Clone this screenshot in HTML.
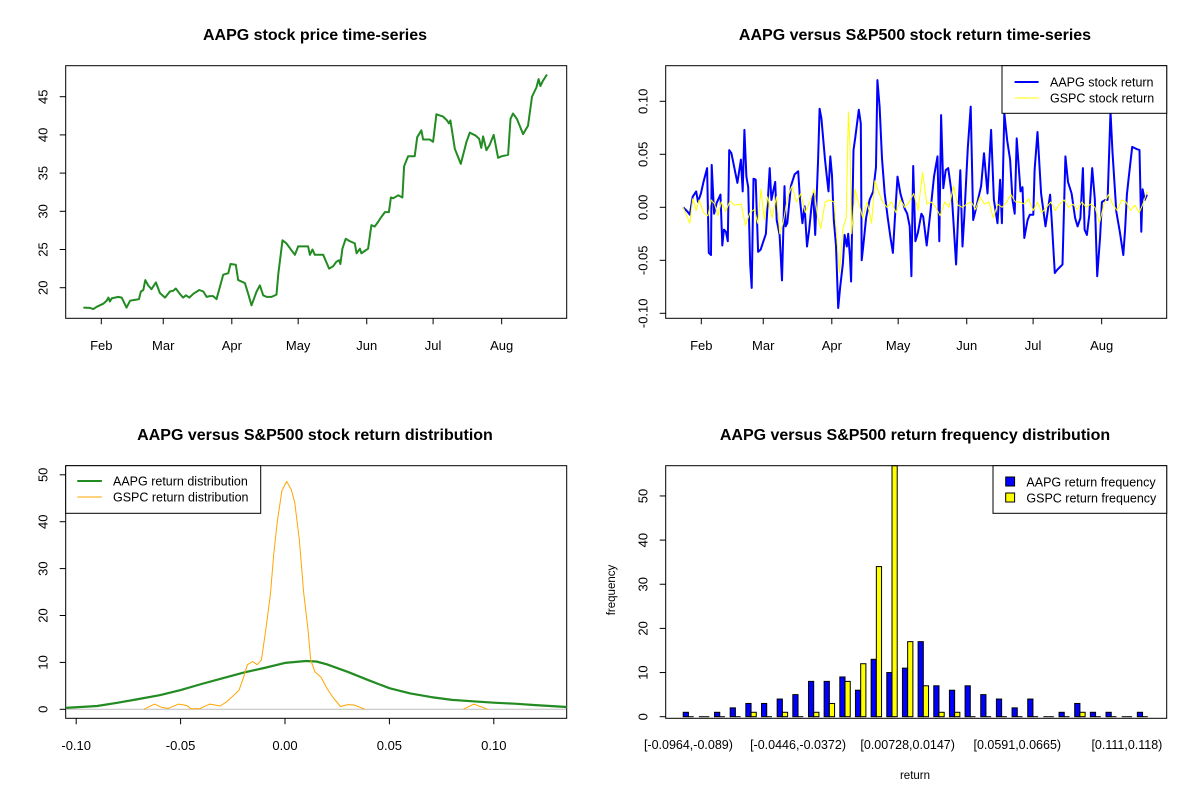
<!DOCTYPE html>
<html><head><meta charset="utf-8"><title>AAPG charts</title>
<style>
html,body{margin:0;padding:0;background:#fff}
svg{display:block;font-family:"Liberation Sans",Arial,sans-serif}
.t{font-weight:bold;font-size:16px;text-anchor:middle}
.tk{font-size:13px}
</style></head><body>
<svg id="s" width="1200" height="800" viewBox="0 0 1200 800" xmlns="http://www.w3.org/2000/svg">
<rect width="1200" height="800" fill="#fff"/>
<text class="t" x="315" y="40">AAPG stock price time-series</text>
<text class="t" x="915" y="40">AAPG versus S&amp;P500 stock return time-series</text>
<text class="t" x="315" y="440">AAPG versus S&amp;P500 stock return distribution</text>
<text class="t" x="915" y="440">AAPG versus S&amp;P500 return frequency distribution</text>
<g id="g"></g>
</svg>
<script>
// ---- data ----
const monthNames=["Feb","Mar","Apr","May","Jun","Jul","Aug"];
const monthDays=[31,59,90,120,151,181,212];
const priceDays=[22.9,25.9,27.4,28.9,31.9,33.4,34.2,34.9,35.7,38.7,40.2,42.4,44.0,46.2,48.0,48.9,50.0,50.9,52.2,53.7,55.7,57.5,59.8,62.0,63.5,64.7,66.5,68.0,69.3,70.8,72.6,75.3,77.1,78.6,80.1,81.6,83.1,84.6,86.1,88.4,89.4,91.8,92.9,95.9,97.4,98.9,101.2,102.7,104.2,105.7,108.0,110.2,111.0,112.9,114.7,117.0,118.5,120.0,124.5,125.3,126.5,127.5,131.3,134.0,135.8,137.3,138.5,139.1,140.0,141.5,143.3,145.6,146.4,147.9,148.6,150.1,151.6,153.1,154.6,156.1,157.7,159.2,161.0,161.9,162.9,165.2,167.1,167.9,169.7,172.7,173.8,175.7,176.5,179.5,181.0,182.5,185.5,187.3,188.2,188.8,190.8,193.5,196.1,197.6,200.3,201.8,202.8,203.6,205.1,206.6,208.4,210.4,211.9,214.9,216.0,217.1,218.9,221.7,223.9,225.7,227.7,228.7,229.5,230.7,232.5];
const priceVals=[17.4,17.35,17.2,17.5,17.9,18.3,18.7,18.2,18.6,18.8,18.7,17.4,18.3,18.4,18.5,19.5,19.7,21.0,20.3,19.8,20.7,19.3,18.7,19.5,19.6,19.9,19.2,18.7,19.0,18.7,19.2,19.7,19.5,18.8,18.9,18.9,18.5,20.1,21.7,21.9,23.1,23.0,21.0,20.6,19.2,17.7,19.5,20.3,19.0,18.8,18.8,19.1,21.8,26.2,25.8,24.9,24.3,25.4,25.4,24.3,25.0,24.3,24.3,22.5,22.8,23.4,23.6,23.1,25.1,26.4,26.1,25.8,24.5,25.1,24.5,24.8,25.1,28.2,28.0,28.6,29.3,29.9,29.9,31.8,31.7,32.1,31.8,35.9,37.2,37.2,39.7,40.6,39.4,39.4,39.1,42.7,42.4,41.9,41.5,41.9,38.2,36.2,39.1,40.3,39.9,39.5,38.3,39.8,38.0,38.7,40.0,37.0,37.2,37.4,42.1,42.8,42.1,40.1,41.2,45.0,46.2,47.3,46.4,47.1,47.9];
const retDays=[22.8,24.7,25.8,27.1,28.7,29.5,30.8,32.0,33.6,34.4,35.4,35.7,36.8,37.9,39.7,40.5,41.2,42.1,43.0,43.6,44.6,47.3,48.9,49.7,50.5,51.4,52.2,53.1,53.8,54.6,55.6,56.7,57.8,60.2,61.9,62.7,64.4,65.1,66.4,67.5,68.6,69.1,69.9,71.5,73.2,74.8,75.6,76.7,77.7,78.8,79.8,80.8,81.6,82.5,83.8,84.5,85.3,86.9,87.7,88.5,89.3,90.1,90.9,91.9,92.9,93.8,95.0,95.8,96.8,97.4,98.2,98.7,99.8,100.6,102.2,103.1,103.5,104.2,105.5,107.1,108.7,110.0,110.6,111.6,112.7,113.9,115.2,116.5,117.6,118.4,119.7,121.0,122.9,124.1,125.2,126.0,126.8,127.8,128.9,130.5,131.3,132.9,134.5,136.2,137.8,138.6,139.4,140.4,141.5,142.6,144.2,146.2,147.1,148.1,149.1,149.9,151.5,152.8,153.9,155.2,157.5,158.8,160.4,162.0,163.3,164.9,166.1,166.9,168.0,169.3,170.6,171.7,172.7,173.6,175.3,176.2,177.0,178.5,179.5,181.1,181.7,183.0,184.6,186.6,188.7,189.5,190.8,191.9,194.3,195.6,196.8,198.4,200.0,201.1,202.4,203.5,204.3,205.3,206.4,207.7,208.9,210.0,211.3,212.1,213.7,214.7,215.5,216.0,216.9,218.6,220.2,221.8,222.6,223.4,224.2,225.8,227.8,229.1,229.9,230.5,231.5,232.5];
const aapgRet=[0,-0.004,-0.007,0.010,0.015,0.005,0.013,0.024,0.037,-0.043,-0.045,0.040,-0.006,0.004,0.012,-0.036,-0.021,-0.023,-0.032,0.054,0.051,0.023,0.045,0.015,0.073,0.029,0.019,-0.054,-0.076,0.027,0.026,-0.042,-0.040,-0.025,0.037,0.007,0.024,-0.012,-0.026,-0.069,0.020,-0.018,-0.015,0.020,0.031,0.034,0.007,-0.015,0.001,-0.037,-0.021,0.001,0.013,-0.026,0.045,0.093,0.084,0.045,0.030,0.015,0.048,0.030,-0.012,-0.036,-0.095,-0.075,-0.053,-0.026,-0.037,-0.025,-0.046,-0.070,0.054,0.066,0.092,0.079,-0.050,-0.037,-0.010,0.007,0.015,0.038,0.120,0.095,0.046,0.013,-0.009,-0.028,-0.043,-0.015,0.029,0.013,-0.001,-0.006,-0.018,-0.065,0.039,-0.032,-0.024,-0.006,-0.009,-0.036,-0.006,0.029,0.048,-0.032,0.087,0.018,0.035,0.037,0.013,-0.054,-0.009,0.035,-0.037,-0.009,0.056,0.095,-0.012,-0.001,0.020,0.051,0.013,0.073,0.007,-0.015,0.026,-0.015,0.089,0.063,0.045,0.007,-0.006,0.065,0.015,0.019,-0.029,-0.012,-0.007,-0.007,0.035,0.071,0.013,-0.018,0.012,-0.015,-0.062,-0.059,-0.054,0.048,0.024,0.013,-0.010,-0.018,-0.010,0.037,-0.021,-0.026,-0.007,0.037,0.008,-0.065,-0.028,0.005,0.007,0.007,0.059,0.090,0.052,-0.004,-0.023,-0.045,-0.021,0.012,0.028,0.057,0.055,0.054,-0.023,0.017,0.007,0.012];
const gspcDays=[22.8,25.8,27.1,28.7,30,32,34,35.5,37,38.5,40,42,44,46,49,51,53,55,56.5,58,59.5,61,63,65,66.5,68,70,72,74,76,78,80,82,83.5,85,87,89,91,92.5,93.5,95,96.5,97.5,98.2,99,100.5,102,104,106,108,109.5,111,113,115,117,119,121,123,125,127,129,131,133,135,137,139,141,143,145,147,149,151,153,155,157,159,161,163,165,167,169,171,173,175,177,179,181,183,185,187,189,191,193,195,197,199,201,203,205,207,209,211,213,215,217,219,221,223,225,227,229,231,232.5];
const gspcRet=[0,-0.015,0.008,-0.003,0.007,-0.005,-0.008,0.007,0.003,-0.008,0.005,-0.004,0.006,0.002,0.003,-0.017,-0.005,-0.002,-0.015,0.017,-0.012,0.01,-0.01,0.01,-0.025,-0.015,0.01,0.02,0.005,0.013,-0.005,0.005,0.017,-0.008,-0.02,0.005,0.007,0.005,-0.035,-0.062,-0.02,-0.01,0.09,0.06,-0.025,0.017,0.005,-0.01,0.005,-0.015,0.025,0.015,0.005,0,0.005,-0.005,0.007,0,0.005,0.013,-0.003,0.033,0.003,0.005,0,-0.008,0.005,0,0.02,0.002,0,0.003,0.005,-0.002,0.01,0.003,0.005,-0.01,0.003,0,0.005,0.012,0.005,0.005,0.003,0.008,-0.003,0.005,-0.005,0,0.005,-0.003,0.003,0.007,0,0.003,-0.002,0.005,0,0.003,0,-0.015,0.003,0.012,0.003,-0.003,0.007,0.005,-0.003,0.002,-0.005,0.005,0.015];
const densX=[-0.105,-0.09,-0.08,-0.07,-0.06,-0.05,-0.04,-0.03,-0.02,-0.01,0,0.01,0.015,0.02,0.03,0.04,0.05,0.06,0.07,0.08,0.09,0.1,0.11,0.12,0.135];
const aapgDens=[0.3,0.7,1.4,2.2,3.0,4.1,5.4,6.6,7.8,8.8,9.9,10.3,10.2,9.6,8.0,6.2,4.5,3.4,2.6,2.0,1.7,1.4,1.2,0.9,0.5];
const gspcDensX=[-0.0676,-0.0625,-0.059,-0.056,-0.051,-0.047,-0.045,-0.041,-0.036,-0.031,-0.028,-0.025,-0.022,-0.020,-0.018,-0.0155,-0.0133,-0.0113,-0.0092,-0.007,-0.0054,-0.0037,-0.0015,0.0008,0.003,0.0047,0.0069,0.0089,0.011,0.0123,0.0143,0.0173,0.0203,0.0232,0.0266,0.030,0.0333,0.0383];
const gspcDens=[0,1.1,0.4,0.2,1.1,0.8,0.1,0.1,1.1,0.7,1.6,2.8,4.1,6.6,9.5,10.2,9.5,10.5,17,24.5,33,40,46.6,48.6,46.8,44,36,25,17,10.5,8,6.8,4.3,2.4,0.6,1.0,0.9,0];
const gspcBumpX=[0.0854,0.0904,0.0971];
const gspcBump=[0,1.1,0];
const binLabels=["[-0.0964,-0.089)","[-0.0446,-0.0372)","[0.00728,0.0147)","[0.0591,0.0665)","[0.111,0.118)"];
const binLabelIdx=[0,7,14,21,28];
const aapgFreq=[1,0,1,2,3,3,4,5,8,8,9,6,13,10,11,17,7,6,7,5,4,2,4,0,1,3,1,1,0,1];
const gspcFreq=[0,0,0,0,1,0,1,0,1,3,8,12,34,57,17,7,1,1,0,0,0,0,0,0,0,1,0,0,0,0];
const priceTicks=[20,25,30,35,40,45];
const retTicks=[-0.10,-0.05,0.00,0.05,0.10];
const densXTicks=[-0.10,-0.05,0.00,0.05,0.10];
const densYTicks=[0,10,20,30,40,50];
const freqTicks=[0,10,20,30,40,50];
</script>
<script>
const NS="http://www.w3.org/2000/svg";
const G=document.getElementById('g');
function mk(tag,attrs,parent){const e=document.createElementNS(NS,tag);for(const k in attrs)e.setAttribute(k,attrs[k]);(parent||G).appendChild(e);return e;}
function txt(s,x,y,rot,size,anchor){const e=mk('text',{x:x,y:y,'font-size':size||13,'text-anchor':anchor||'middle'});if(rot)e.setAttribute('transform','rotate(-90 '+x+' '+y+')');e.textContent=s;return e;}
const dayX=(d,off)=>101.3+off+(d-31)*2.212;
const priceY=v=>287.7-(v-20)*7.64;
const retY=r=>207.3-r*1060;
const densXs=v=>285+v*2088;
const densYs=v=>709.3-v*4.69;
const freqY=v=>716.7-v*4.415;
function box(x0,y0,x1,y1,name){const r=mk('rect',{x:x0,y:y0,width:x1-x0,height:y1-y0,fill:'none',stroke:'#000','stroke-width':1});

}
function poly(xs,ys,fx,fy,color,w,name){const pts=xs.map((v,i)=>fx(v).toFixed(1)+','+fy(ys[i]).toFixed(1)).join(' ');
const p=mk('polyline',{points:pts,fill:'none',stroke:color,'stroke-width':w,'stroke-linejoin':'round'});

}
function yAxis(ticks,fy,xl,fmt,name){ticks.forEach(t=>{const y=fy(t);mk('line',{x1:xl,x2:xl-6,y1:y,y2:y,stroke:'#000'});
const e=txt(fmt(t),xl-18,y,true);

});}
function monthAxis(off){monthDays.forEach((d,i)=>{const x=dayX(d,off);mk('line',{x1:x,x2:x,y1:318.3,y2:324.3,stroke:'#000'});
const e=txt(monthNames[i],x,350);

});}
// Panel 1
box(65.7,65.7,566.7,318.3,'price-plot-frame');
yAxis(priceTicks,priceY,65.7,t=>String(t),'price-y');
monthAxis(0);
poly(priceDays,priceVals,d=>dayX(d,0),priceY,'#228B22',2,'aapg-price-line');
// Panel 2
box(665.7,65.7,1166.7,318.3,'return-plot-frame');
yAxis(retTicks,retY,665.7,t=>t.toFixed(2),'return-y');
monthAxis(600);
poly(retDays,aapgRet,d=>dayX(d,600),retY,'#0000FF',2,'aapg-return-line');
poly(gspcDays,gspcRet,d=>dayX(d,600),retY,'#FFFF00',1,'gspc-return-line');
let lg=mk('rect',{x:1002,y:65.7,width:164.7,height:47.6,fill:'#fff',stroke:'#000'});


mk('line',{x1:1014.6,x2:1038.6,y1:82,y2:82,stroke:'#0000FF','stroke-width':2});
mk('line',{x1:1014.6,x2:1038.6,y1:98,y2:98,stroke:'#FFFF00','stroke-width':1});
let e=txt('AAPG stock return',1050,86.5,false,12.5,'start');


e=txt('GSPC stock return',1050,102.5,false,12.5,'start');


// Panel 3
box(65.7,465.7,566.7,718.3,'density-plot-frame');
yAxis(densYTicks,densYs,65.7,t=>String(t),'density-y');
densXTicks.forEach(t=>{const x=densXs(t);mk('line',{x1:x,x2:x,y1:718.3,y2:724.3,stroke:'#000'});
const el=txt(t.toFixed(2),x,750);

});
mk('line',{x1:66,x2:566,y1:densYs(0),y2:densYs(0),stroke:'#BEBEBE'});
poly(densX,aapgDens,densXs,densYs,'#228B22',2.2,'aapg-density-line');
poly(gspcDensX,gspcDens,densXs,densYs,'#FFA500',1,'gspc-density-line');
poly(gspcBumpX,gspcBump,densXs,densYs,'#FFA500',1,'gspc-density-tail');
lg=mk('rect',{x:65.7,y:465.7,width:195,height:47.6,fill:'#fff',stroke:'#000'});


mk('line',{x1:77.3,x2:101.9,y1:481,y2:481,stroke:'#228B22','stroke-width':2});
mk('line',{x1:77.3,x2:101.9,y1:497,y2:497,stroke:'#FFA500','stroke-width':1});
e=txt('AAPG return distribution',113,485.5,false,12.5,'start');


e=txt('GSPC return distribution',113,501.5,false,12.5,'start');


// Panel 4
const unit=5.22, gx=i=>683.2+i*15.66;
function bar(x,v,fill,name){const y=Math.max(freqY(v),465.7);let r;
if(v===0){r=mk('line',{x1:x,x2:x+unit,y1:freqY(0),y2:freqY(0),stroke:'#000','stroke-width':1});}
else{r=mk('rect',{x:x,y:y,width:unit,height:freqY(0)-y,fill:fill,stroke:'#000','stroke-width':1});}

}
aapgFreq.forEach((v,i)=>bar(gx(i),v,'#0000FF','bar-aapg'));
gspcFreq.forEach((v,i)=>bar(gx(i)+unit,v,'#FFFF00','bar-gspc'));
box(665.7,465.7,1166.7,718.3,'hist-plot-frame');
yAxis(freqTicks,freqY,665.7,t=>String(t),'freq-y');
binLabelIdx.forEach((b,k)=>{const el=txt(binLabels[k],gx(b)+unit,749,false,12.5);

});
e=txt('frequency',615,590,true,11.5);


e=txt('return',915,779,false,11.5);


lg=mk('rect',{x:993,y:465.7,width:173.7,height:47.6,fill:'#fff',stroke:'#000'});


mk('rect',{x:1005.7,y:477,width:8.9,height:9,fill:'#0000FF',stroke:'#000'});
mk('rect',{x:1005.7,y:493,width:8.9,height:9,fill:'#FFFF00',stroke:'#000'});
e=txt('AAPG return frequency',1026.4,486.5,false,12.5,'start');


e=txt('GSPC return frequency',1026.4,502.5,false,12.5,'start');


</script>
</body></html>
